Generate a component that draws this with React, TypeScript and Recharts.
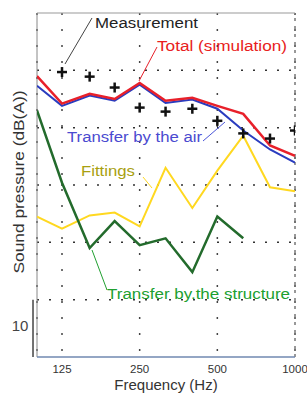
import React from 'react';
import { ComposedChart, Line, Scatter, XAxis, YAxis, CartesianGrid, ReferenceLine } from 'recharts';

const freqs = [100, 125, 160, 200, 250, 315, 400, 500, 630, 800, 1000];
const measurement = [null, 49.7, 48.9, 47, 43.5, 42.8, 43.3, 41.2, 39, 38.1, 39.5];
const total = [49, 44.2, 45.9, 45, 47.8, 44.7, 45.2, 43.8, 42.4, 36.9, 35.1];
const air = [47.3, 43.8, 45.6, 44.7, 47.5, 44.3, 44.9, 43.3, 39.5, 36.2, 33.9];
const fittings = [24.5, 22.4, 24.7, 25.2, 22.8, 33, 26, 32.5, 38.6, 29.6, 28.9];
const structure = [43, 30.4, 19, 23.7, 19.5, 20.7, 14.8, 24.5, 20.7, null, null];
const xTicks = [125, 250, 500, 1000];
const yTicks = [10, 20, 30, 40, 50];

const data = freqs.map((f, i) => ({
  f,
  measurement: measurement[i],
  total: total[i],
  air: air[i],
  fittings: fittings[i],
  structure: structure[i],
}));

const font = '"Liberation Sans", Arial, sans-serif';

const Cross = (props: any) => {
  const { cx, cy } = props;
  if (cx == null || cy == null) return null;
  return (
    <g stroke="#111" strokeWidth={2.5}>
      <line x1={cx - 5} y1={cy} x2={cx + 5} y2={cy} />
      <line x1={cx} y1={cy - 5} x2={cx} y2={cy + 5} />
    </g>
  );
};

export default function App() {
  return (
    <div style={{ position: 'absolute', left: 0, top: 0, width: 307, height: 394, background: '#fff', fontFamily: font }}>
      <ComposedChart width={307} height={394} data={data} margin={{ top: 13, right: 12, bottom: 0, left: 37 }}>
        <CartesianGrid stroke="#444" strokeWidth={1.5} strokeDasharray="2 14" horizontal={false} />
        <XAxis
          dataKey="f"
          type="number"
          scale="log"
          domain={[100, 1000]}
          ticks={xTicks}
          height={37}
          axisLine={false}
          tickLine={false}
          tick={{ fontSize: 11.5, fill: '#333', fontFamily: font }}
          tickMargin={2}
          allowDataOverflow
          label={{ value: 'Frequency (Hz)', position: 'insideBottom', offset: 4, fontSize: 15, fill: '#333', fontFamily: font }}
        />
        <YAxis domain={[0, 60]} ticks={yTicks} width={0} tick={false} axisLine={false} tickLine={false} />
        {yTicks.map((v) => (
          <ReferenceLine key={v} y={v} stroke="#333" strokeWidth={1.5} strokeDasharray="2 10" />
        ))}
        <ReferenceLine y={60} stroke="#999" />
        <ReferenceLine x={100} stroke="#888" />
        <ReferenceLine x={1000} stroke="#333" strokeDasharray="3 5" />
        <ReferenceLine y={0} stroke="#7089b0" strokeWidth={1.5} />
        <ReferenceLine
          segment={[{ x: 96.5, y: 0 }, { x: 96.5, y: 10 }]}
          stroke="#444"
          strokeWidth={1.5}
          ifOverflow="visible"
        />
        <Line dataKey="fittings" stroke="#ffd820" strokeWidth={2} dot={false} isAnimationActive={false} />
        <Line dataKey="structure" stroke="#236b2c" strokeWidth={2.5} dot={false} isAnimationActive={false} />
        <Line dataKey="air" stroke="#2a3cbf" strokeWidth={2} dot={false} isAnimationActive={false} />
        <Line dataKey="total" stroke="#e8202a" strokeWidth={2.5} dot={false} isAnimationActive={false} />
        <Scatter dataKey="measurement" shape={<Cross />} isAnimationActive={false} />
      </ComposedChart>
      <svg width={307} height={394} style={{ position: 'absolute', left: 0, top: 0, pointerEvents: 'none' }}>
        <g fontFamily={font} fontSize={14}>
          <line x1={92} y1={18} x2={65} y2={64} stroke="#444" strokeWidth={1} />
          <text x={95} y={28} fill="#222" textLength={103} lengthAdjust="spacingAndGlyphs">Measurement</text>
          <line x1={157} y1={47} x2={139} y2={81} stroke="#e8202a" strokeWidth={1} />
          <text x={157} y={51} fill="#e82020" textLength={130} lengthAdjust="spacingAndGlyphs">Total (simulation)</text>
          <line x1={203} y1={141} x2={225} y2={122} stroke="#4a55d8" strokeWidth={1} />
          <text x={67} y={142} fill="#4a4ad0" textLength={135} lengthAdjust="spacingAndGlyphs">Transfer by the air</text>
          <line x1={143} y1={177} x2={152} y2={188} stroke="#ffd820" strokeWidth={1} />
          <text x={81} y={176} fill="#a8a010" textLength={54} lengthAdjust="spacingAndGlyphs">Fittings</text>
          <line x1={107} y1={290} x2={92} y2={250} stroke="#20a030" strokeWidth={1} />
          <text x={107} y={299} fill="#20a030" textLength={183} lengthAdjust="spacingAndGlyphs">Transfer by.the structure</text>
          <text x={20} y={331} fill="#444" fontSize={15} textAnchor="middle">10</text>
          <text
            x={0}
            y={0}
            transform="translate(24,182) rotate(-90)"
            textAnchor="middle"
            fontSize={15}
            fill="#333"
            textLength={183}
            lengthAdjust="spacingAndGlyphs"
          >
            Sound pressure (dB(A))
          </text>
        </g>
      </svg>
    </div>
  );
}
